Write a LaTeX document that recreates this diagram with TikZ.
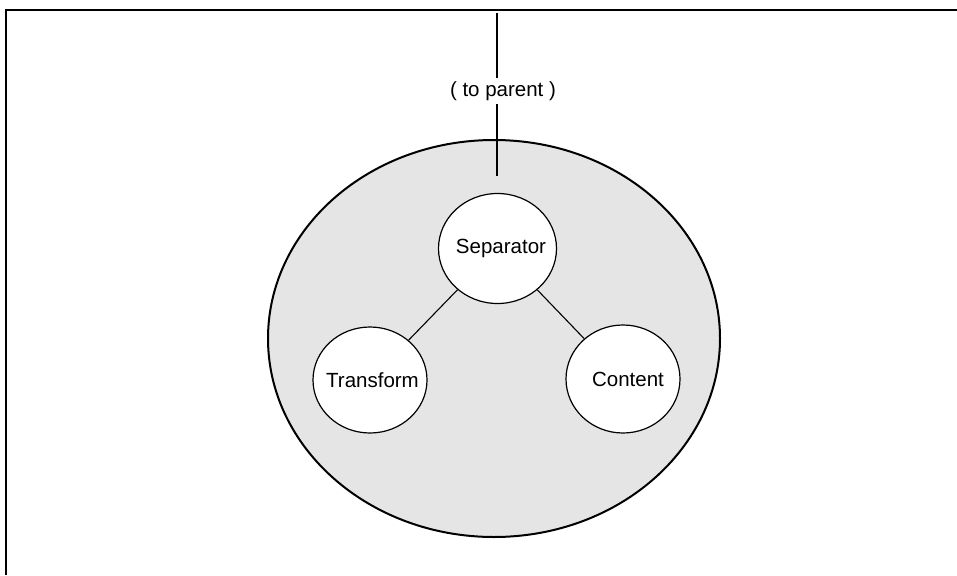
\documentclass[tikz,border=0pt]{standalone}
\usepackage{fontspec}
\setmainfont{Liberation Sans}
\usetikzlibrary{shapes.geometric}
% label that does not widen its node
\newcommand{\cappedlabel}[2][0pt]{\makebox[0pt]{\hspace*{#1}#2}}
\begin{document}
\begin{tikzpicture}[x=1pt,y=-1pt,
  txt/.style={font=\fontsize{20.5}{24}\selectfont},
  member/.style={ellipse,draw,fill=white,line width=1.2pt,inner sep=0pt,txt},
  link/.style={line width=1.1pt},
  frame/.style={line width=2pt},
  group/.style={ellipse,draw,fill=gray!20,line width=2pt,inner sep=0pt,
                minimum width=452pt,minimum height=397pt}]
\useasboundingbox (0,0) rectangle (957,575);
% open frame: top and left edges only
\coordinate (fbl) at (6,575);
\coordinate (ftl) at (6,10);
\coordinate (ftr) at (957,10);
\draw[frame] (fbl) -- (ftl) -- (ftr);
% grouping ellipse
\node[group] (grp) at (494,338.5) {};
% child nodes
\node[member,minimum width=118pt,minimum height=110pt] (sep) at (497.5,248.5) {\cappedlabel[7pt]{Separator}};
\node[member,minimum width=114pt,minimum height=106pt] (tra) at (370,380) {\cappedlabel[5pt]{Transform}};
\node[member,minimum width=114pt,minimum height=108pt] (con) at (623,379) {\cappedlabel[10pt]{Content}};
\draw[link] (sep) -- (tra);
\draw[link] (sep) -- (con);
% link up to the parent
\coordinate (up) at (497,13);
\coordinate (down) at (497,176);
\node[txt,inner sep=0pt,minimum height=26pt] (lbl) at (503,91) {( to parent )};
\draw[line width=1.8pt] (up) -- (up |- lbl.north);
\draw[line width=1.8pt] (down |- lbl.south) -- (down);
\end{tikzpicture}
\end{document}
